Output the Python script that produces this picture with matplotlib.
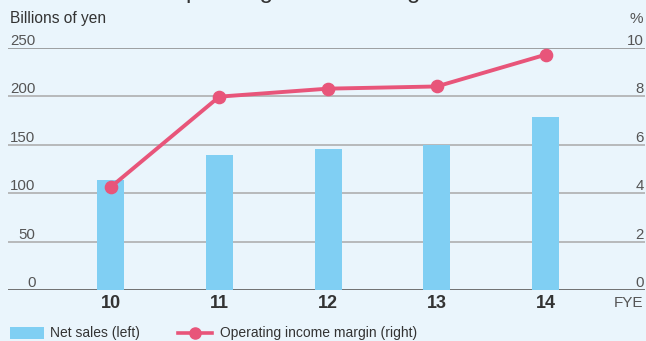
import matplotlib
matplotlib.use("Agg")
import matplotlib.pyplot as plt
import matplotlib.transforms as mtransforms
from matplotlib.lines import Line2D
from matplotlib.patches import Rectangle

years = ["10", "11", "12", "13", "14"]
net_sales = [113, 139, 145, 150, 178]
op_margin = [4.24, 7.98, 8.31, 8.4, 9.71]
left_ticks = [0, 50, 100, 150, 200, 250]
right_ticks = [0, 2, 4, 6, 8, 10]

BG = "#EAF5FC"
BAR = "#80CFF3"
LINE = "#E8557A"
TXT = "#555555"
DARK = "#333333"

plt.rcParams["font.family"] = ["Liberation Sans", "DejaVu Sans"]

fig = plt.figure(figsize=(6.46, 3.41), dpi=100, facecolor=BG)
W, H = 646, 341
ax = fig.add_axes([8 / W, 51 / H, 637 / W, 242.3 / H])
ax.set_facecolor(BG)
for s in ax.spines.values():
    s.set_visible(False)

x = list(range(len(years)))
ax.set_xlim(-0.943, 4.915)
ax.set_ylim(0, 250)

for t in left_ticks:
    col = "#666666" if t == 0 else ("#888888" if t == 250 else "#A9A9A9")
    ax.axhline(t, color=col, lw=1.3 if t == 0 else 1.1, zorder=1)

ax.bar(x, net_sales, width=0.248, color=BAR, zorder=2)

ax2 = ax.twinx()
for s in ax2.spines.values():
    s.set_visible(False)
ax2.set_ylim(0, 10)
ax2.plot(x, op_margin, color=LINE, lw=2.8, marker="o", ms=8.8, zorder=5,
         solid_capstyle="round")

for a in (ax, ax2):
    a.set_yticks([])
    a.set_xticks([])

# left tick labels above lines (right-aligned)
trl = mtransforms.blended_transform_factory(ax.transAxes, ax.transData)
for t in left_ticks:
    ax.text(27.5 / 637, t, str(t), transform=trl, ha="right", va="bottom",
            fontsize=10.8, color=TXT)
trr = mtransforms.blended_transform_factory(ax2.transAxes, ax2.transData)
for t in right_ticks:
    ax2.text(0.998, t, str(t), transform=trr, ha="right", va="bottom",
             fontsize=10.8, color=TXT)

# x labels
trx = mtransforms.blended_transform_factory(ax.transData, fig.transFigure)
for xi, yl in zip(x, years):
    ax.text(xi, 1 - 303 / H, yl, transform=trx, ha="center", va="center",
            fontsize=13, fontweight="bold", color=DARK)
fig.text(643 / W, 1 - 303 / H, "FYE", ha="right", va="center", fontsize=11, color=TXT)

fig.text(10 / W, 1 - 19 / H, "Billions of yen", ha="left", va="center", fontsize=11.2, color=DARK)
fig.text(643 / W, 1 - 19 / H, "%", ha="right", va="center", fontsize=11, color=TXT)

# title, clipped by the top edge as in the reference
fig.text(9 / W, 1 + 2 / H, "Net Sales and Operating Income Margin", ha="left",
         va="baseline", fontsize=17.4, color=DARK)

# legend
fig.patches.append(Rectangle((10 / W, 1 - 339 / H), 34 / W, 12 / H,
                             transform=fig.transFigure, facecolor=BAR,
                             edgecolor="none"))
fig.text(50 / W, 1 - 333 / H, "Net sales (left)", ha="left", va="center",
         fontsize=10, color=DARK)
fig.lines.append(Line2D([178 / W, 212 / W], [1 - 333 / H, 1 - 333 / H],
                        transform=fig.transFigure, color=LINE, lw=2.6))
fig.lines.append(Line2D([195 / W], [1 - 333 / H], transform=fig.transFigure,
                        color=LINE, marker="o", ms=8, lw=0))
fig.text(220 / W, 1 - 333 / H, "Operating income margin (right)", ha="left",
         va="center", fontsize=10, color=DARK)

fig.savefig("out.png", dpi=100, facecolor=BG)
